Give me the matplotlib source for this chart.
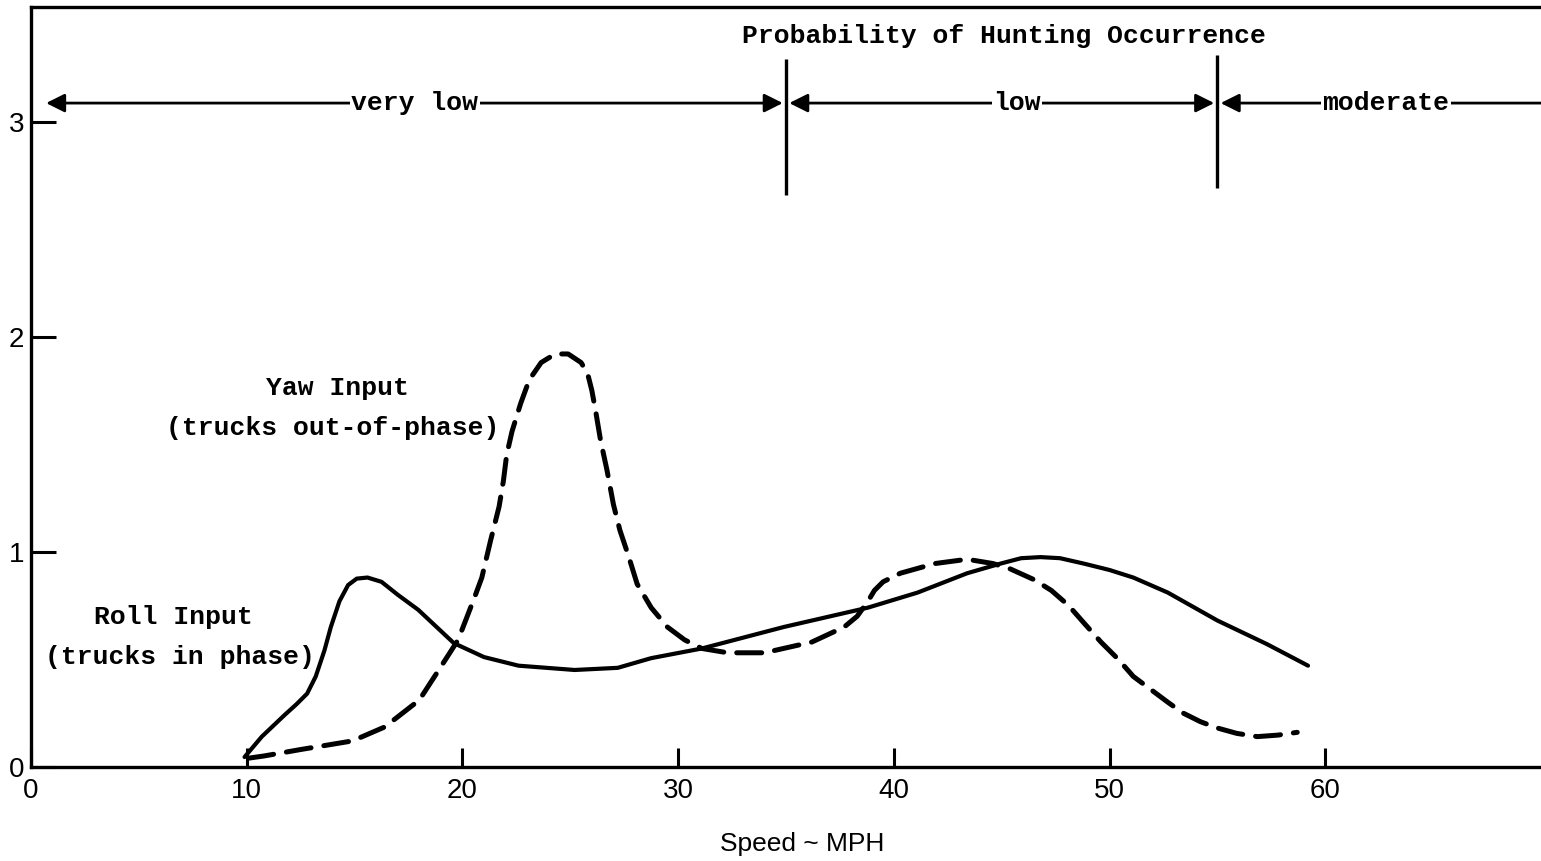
import matplotlib
matplotlib.use("Agg")
import matplotlib.pyplot as plt
from matplotlib import font_manager as fm

# --- data ---
roll_x = [9.9, 10.7, 11.75, 12.3, 12.8, 13.2, 13.6, 13.9, 14.3, 14.7, 15.1, 15.6, 16.25,
          17.0, 17.95, 19.6, 21.0, 22.6, 25.2, 27.2, 28.75, 31.1, 34.9, 38.8, 41.1, 43.4,
          44.95, 45.9, 46.8, 47.7, 48.8, 50.0, 51.1, 52.7, 55.0, 57.3, 59.2]
roll_y = [0.045, 0.14, 0.24, 0.29, 0.34, 0.42, 0.54, 0.65, 0.77, 0.845, 0.875, 0.88, 0.86,
          0.80, 0.73, 0.575, 0.51, 0.47, 0.45, 0.46, 0.505, 0.55, 0.65, 0.74, 0.81, 0.90,
          0.945, 0.97, 0.975, 0.97, 0.945, 0.915, 0.88, 0.81, 0.68, 0.57, 0.47]

yaw_x = [10.1, 10.8, 12.5, 14.9, 16.4, 18.0, 19.0, 19.8, 20.57, 20.9, 21.3, 21.7, 21.9,
         22.05, 22.3, 22.7, 23.1, 23.65, 24.3, 24.9, 25.5, 25.8, 26.0, 26.2, 26.4, 26.7,
         27.0, 27.3, 27.7, 28.1, 28.75, 29.5, 30.3, 31.1, 32.3, 34.0, 36.2, 37.7, 38.3,
         38.8, 39.1, 39.5, 40.3, 41.9, 43.4, 44.6, 45.4, 46.5, 47.3, 48.1, 48.8, 49.6,
         50.4, 51.1, 51.9, 52.7, 53.4, 54.2, 55.0, 55.9, 56.85, 57.8, 58.7]
yaw_y = [0.04, 0.05, 0.08, 0.12, 0.185, 0.31, 0.465, 0.59, 0.79, 0.88, 1.05, 1.21, 1.33,
         1.45, 1.56, 1.69, 1.80, 1.88, 1.92, 1.92, 1.88, 1.83, 1.75, 1.64, 1.52, 1.38,
         1.22, 1.10, 0.98, 0.85, 0.74, 0.65, 0.59, 0.55, 0.53, 0.53, 0.58, 0.65, 0.70,
         0.77, 0.82, 0.86, 0.90, 0.945, 0.965, 0.945, 0.92, 0.87, 0.82, 0.75, 0.67, 0.58,
         0.50, 0.42, 0.36, 0.30, 0.25, 0.21, 0.18, 0.155, 0.14, 0.147, 0.16]

x_ticks = [0, 10, 20, 30, 40, 50, 60]
y_ticks = [0, 1, 2, 3]

# hunting probability bands
band_edges = [35, 55]
band_labels = ["very low", "low", "moderate"]
band_label_x = [17.8, 45.7, 62.8]
band_y = 3.087

names = {f.name for f in fm.fontManager.ttflist}
mono = "Liberation Mono" if "Liberation Mono" in names else "DejaVu Sans Mono"
sans = "Liberation Sans" if "Liberation Sans" in names else "DejaVu Sans"

fig = plt.figure(figsize=(15.41, 8.61), dpi=100)
ax = fig.add_axes([31 / 1541, 0.1095, 1 - 31 / 1541, 0.9919 - 0.1095])

ax.plot(roll_x, roll_y, color="black", lw=3.0, solid_capstyle="round",
        solid_joinstyle="round")
ax.plot(yaw_x, yaw_y, color="black", lw=3.6, dashes=(5, 2.6), dash_capstyle="round",
        dash_joinstyle="round")

ax.set_xlim(0, 70)
ax.set_ylim(0, 3.534)
ax.set_xticks(x_ticks)
ax.set_yticks(y_ticks)
ax.set_xticklabels([str(v) for v in x_ticks], family=sans, fontsize=20)
ax.set_yticklabels([str(v) for v in y_ticks], family=sans, fontsize=20)
ax.tick_params(axis="x", direction="in", length=14, width=2.2, pad=8)
ax.tick_params(axis="y", direction="in", length=18, width=2.2, pad=5)
for s in ["left", "bottom", "top"]:
    ax.spines[s].set_linewidth(2.4)
ax.spines["right"].set_visible(False)

ax.set_xlabel("Speed ~ MPH", family=sans, fontsize=19)
ax.xaxis.set_label_coords(0.511, -0.086)

# band arrows and dividers
starts = [0.7] + [e + 0.15 for e in band_edges]
ends = [e - 0.15 for e in band_edges] + [70]
for i, (a, b) in enumerate(zip(starts, ends)):
    style = "<|-|>" if i < 2 else "-|>"
    ax.annotate("", xy=(a, band_y), xytext=(b, band_y),
                arrowprops=dict(arrowstyle=style, lw=2.0, color="black",
                                mutation_scale=28, shrinkA=0, shrinkB=0))
    ax.text(band_label_x[i], band_y, band_labels[i], family=mono, fontsize=19,
            weight="bold", ha="center", va="center",
            bbox=dict(facecolor="white", edgecolor="none", pad=1))
ax.vlines(band_edges, [2.66, 2.69], [3.29, 3.31], color="black", lw=2.4)

ax.text(45.1, 3.40, "Probability of Hunting Occurrence", family=mono, fontsize=19,
        weight="bold", ha="center", va="center")
ax.text(14.2, 1.76, "Yaw Input", family=mono, fontsize=19, weight="bold",
        ha="center", va="center")
ax.text(14.0, 1.575, "(trucks out-of-phase)", family=mono, fontsize=19, weight="bold",
        ha="center", va="center")
ax.text(6.6, 0.695, "Roll Input", family=mono, fontsize=19, weight="bold",
        ha="center", va="center")
ax.text(6.9, 0.51, "(trucks in phase)", family=mono, fontsize=19, weight="bold",
        ha="center", va="center")

fig.savefig("out.png", dpi=100)
